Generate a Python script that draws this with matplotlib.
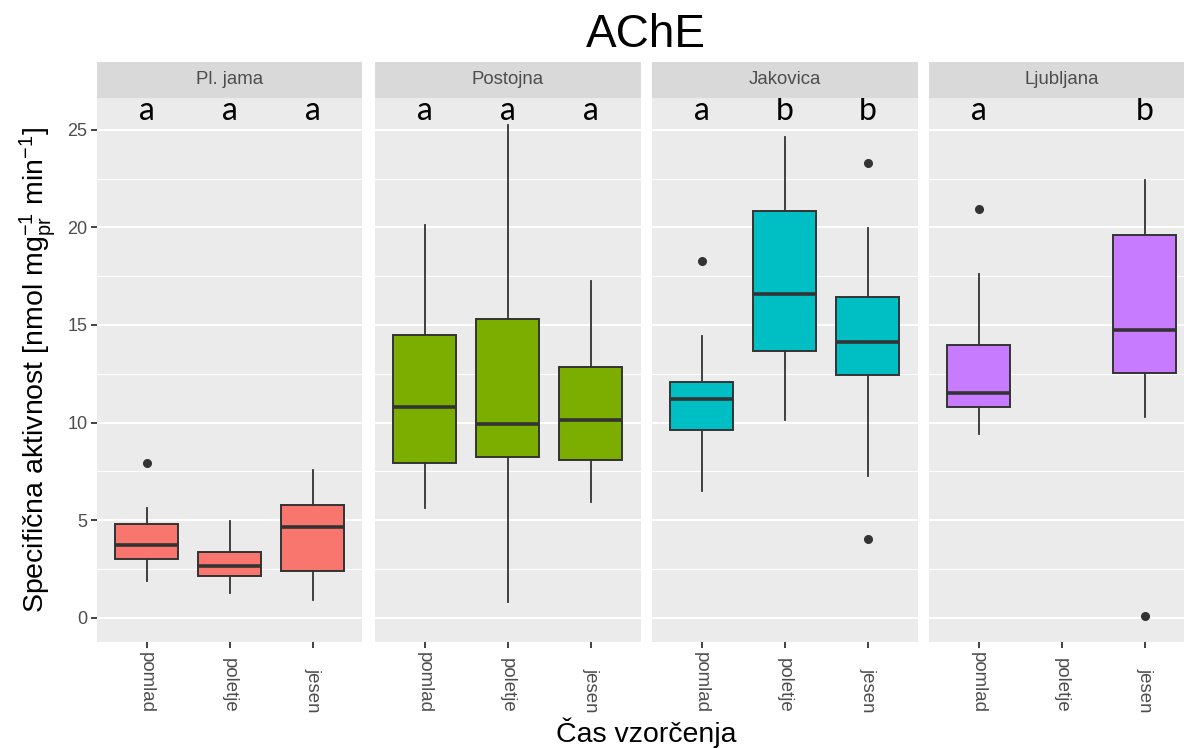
import matplotlib
matplotlib.use("Agg")
import matplotlib.pyplot as plt

plt.rcParams["font.family"] = ["Liberation Sans", "DejaVu Sans"]
plt.rcParams["mathtext.fontset"] = "custom"
plt.rcParams["mathtext.rm"] = "Liberation Sans"
plt.rcParams["mathtext.it"] = "Liberation Sans:italic"

sites = ["Pl. jama", "Postojna", "Jakovica", "Ljubljana"]
seasons = ["pomlad", "poletje", "jesen"]
colors = ["#F8766D", "#7CAE00", "#00BFC4", "#C77CFF"]

# box statistics, per site and season (None = no data)
whislo = [[1.90, 1.25, 0.91], [5.64, 0.82, 5.94], [6.49, 10.11, 7.25], [9.42, None, 10.29]]
q1 = [[3.02, 2.12, 2.41], [7.93, 8.23, 8.09], [9.62, 13.68, 12.44], [10.78, None, 12.56]]
med = [[3.74, 2.63, 4.63], [10.78, 9.95, 10.15], [11.19, 16.59, 14.11], [11.50, None, 14.75]]
q3 = [[4.80, 3.35, 5.77], [14.48, 15.32, 12.87], [12.07, 20.83, 16.44], [13.97, None, 19.59]]
whishi = [[5.63, 4.93, 7.58], [20.10, 25.27, 17.24], [14.46, 24.65, 19.98], [17.59, None, 22.43]]
fliers = [[[7.90], [], []], [[], [], []], [[18.30], [], [23.28, 4.04]], [[20.92], [], [0.06]]]
letters = [["a", "a", "a"], ["a", "a", "a"], ["a", "b", "b"], ["a", "", "b"]]

W, H = 1184, 748
fig = plt.figure(figsize=(W / 100, H / 100), dpi=100)

panel_top, panel_bot = 98.3, 642.0
strip_top = 61.7
lefts = [97, 375, 652, 929]
pw = 265.5
edge = "#333333"

for i, site in enumerate(sites):
    ax = fig.add_axes([lefts[i] / W, (H - panel_bot) / H, pw / W, (panel_bot - panel_top) / H])
    sax = fig.add_axes([lefts[i] / W, (H - panel_top) / H, pw / W, (panel_top - strip_top) / H])
    sax.set_facecolor("#D9D9D9")
    sax.set_xticks([])
    sax.set_yticks([])
    for s in sax.spines.values():
        s.set_visible(False)
    sax.text(0.5, 0.5, site, ha="center", va="center", fontsize=13.4, color="#4D4D4D",
             transform=sax.transAxes)

    ax.set_facecolor("#EBEBEB")
    for s in ax.spines.values():
        s.set_visible(False)
    ax.set_axisbelow(True)

    stats = []
    pos = []
    for j in range(3):
        if med[i][j] is None:
            continue
        stats.append(dict(whislo=whislo[i][j], q1=q1[i][j], med=med[i][j], q3=q3[i][j],
                          whishi=whishi[i][j], fliers=fliers[i][j]))
        pos.append(j + 1)
    ax.bxp(stats, positions=pos, widths=0.76, patch_artist=True, showcaps=False,
           boxprops=dict(facecolor=colors[i], edgecolor=edge, linewidth=1.4),
           medianprops=dict(color=edge, linewidth=2.6, solid_capstyle="butt"),
           whiskerprops=dict(color=edge, linewidth=1.3),
           flierprops=dict(marker="o", markerfacecolor=edge, markeredgecolor=edge,
                           markersize=5.5))

    for j in range(3):
        ax.text(j + 1, 25.5, letters[i][j], ha="center", va="baseline", fontsize=23,
                family=["Lato", "DejaVu Sans"], color="black")

    ax.set_xlim(0.4, 3.6)
    ax.set_ylim(-1.25, 26.62)
    ax.set_yticks([0, 5, 10, 15, 20, 25])
    ax.set_yticks([2.5, 7.5, 12.5, 17.5, 22.5], minor=True)
    ax.grid(True, which="major", axis="y", color="white", linewidth=1.5)
    ax.grid(True, which="minor", axis="y", color="white", linewidth=0.8)
    ax.set_xticks([1, 2, 3])
    ax.set_xticklabels(seasons, rotation=270, va="bottom", fontsize=13.4, color="#4D4D4D")
    ax.tick_params(axis="x", length=4, width=1.3, color=edge, pad=47)
    ax.tick_params(axis="y", which="minor", length=0)
    if i == 0:
        ax.tick_params(axis="y", which="major", length=4, width=1.3, color=edge,
                       labelsize=13, labelcolor="#4D4D4D", pad=3)
    else:
        ax.tick_params(axis="y", which="major", length=0, labelleft=False)

fig.text(646 / W, 1 - 35 / H, "AChE", ha="center", va="center", fontsize=33)
fig.text(646 / W, 1 - 733 / H, "Čas vzorčenja", ha="center", va="center", fontsize=20.5)
fig.text(38 / W, 1 - 370 / H,
         r"Specifična aktivnost [nmol mg$_{\mathrm{pr}}^{\mathrm{-1}}$ min$^{\mathrm{-1}}$]",
         ha="center", va="center", rotation=90, fontsize=20.5)

fig.savefig("out.png", dpi=100)
